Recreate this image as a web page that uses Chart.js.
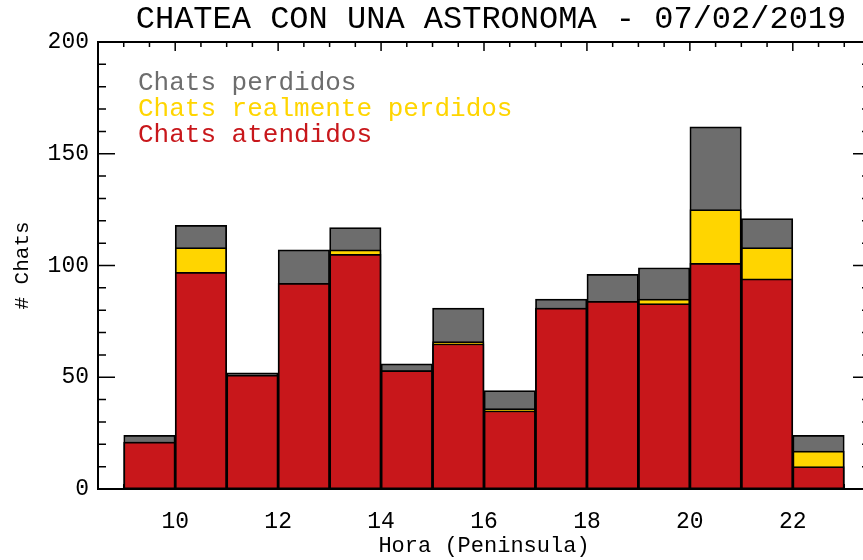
<!DOCTYPE html>
<html>
<head>
<meta charset="utf-8">
<script src="https://cdn.jsdelivr.net/npm/chart.js@4"></script>
<style>
html, body { margin: 0; padding: 0; background: #fff; overflow: hidden; }
#wrap { width: 863px; height: 560px; overflow: hidden; }
</style>
</head>
<body>
<div id="wrap"><canvas id="myChart" width="880" height="560"></canvas></div>
<script>
// one bar per hour, from h to h+1
var hours = [9, 10, 11, 12, 13, 14, 15, 16, 17, 18, 19, 20, 21, 22];
var perdidos = [24, 118, 52, 107, 117, 56, 81, 44, 85, 96, 99, 162, 121, 24];
var realmentePerdidos = [21, 108, 51, 92, 107, 53, 66, 36, 81, 84, 85, 125, 108, 17];
var atendidos = [21, 97, 51, 92, 105, 53, 65, 35, 81, 84, 83, 101, 94, 10];
var xTicks = [10, 12, 14, 16, 18, 20, 22];
var yTicks = [0, 50, 100, 150, 200];
var legendLabels = ['Chats perdidos', 'Chats realmente perdidos', 'Chats atendidos'];
var titleText = 'CHATEA CON UNA ASTRONOMA - 07/02/2019';

var RED = '#c8171b', YELLOW = '#ffd500', GRAY = '#6d6d6d';
var FONT = '"Liberation Mono", "DejaVu Sans Mono", monospace';

function toPoints(values) {
    return hours.map(function(h, i) { return { x: h + 0.5, y: values[i] }; });
}

var framePlugin = {
    id: 'frame',
    beforeDatasetsDraw: function(chart) {
        var ctx = chart.ctx, a = chart.chartArea;
        var xs = chart.scales.x, ys = chart.scales.y;
        ctx.save();
        ctx.strokeStyle = '#000';
        ctx.lineWidth = 2;
        ctx.strokeRect(a.left, a.top, a.right - a.left, a.bottom - a.top);
        ctx.lineWidth = 1.5;
        ctx.beginPath();
        for (var v = 0; v <= 200; v += 10) {
            var py = ys.getPixelForValue(v);
            var len = (v % 50 === 0) ? 17 : 8;
            ctx.moveTo(a.left, py); ctx.lineTo(a.left + len, py);
            ctx.moveTo(a.right, py); ctx.lineTo(a.right - len, py);
        }
        for (var h = 9; h <= 23; h += 0.5) {
            var px = xs.getPixelForValue(h);
            var l = (h % 2 === 0) ? 9 : 5;
            ctx.moveTo(px, a.top); ctx.lineTo(px, a.top + l);
            ctx.moveTo(px, a.bottom); ctx.lineTo(px, a.bottom - l);
        }
        ctx.stroke();
        ctx.restore();
    },
    afterDraw: function(chart) {
        var ctx = chart.ctx, a = chart.chartArea;
        var colors = [GRAY, YELLOW, RED];
        ctx.save();
        // title
        ctx.fillStyle = '#000';
        ctx.font = '32px ' + FONT;
        ctx.textAlign = 'center';
        ctx.textBaseline = 'middle';
        ctx.fillText(titleText, (a.left + a.right) / 2 + 7, a.top - 22);
        // legend
        ctx.font = '26px ' + FONT;
        ctx.textAlign = 'left';
        legendLabels.forEach(function(t, i) {
            ctx.fillStyle = colors[i];
            ctx.fillText(t, a.left + 40, a.top + 41 + i * 26);
        });
        ctx.restore();
    }
};

var ctx = document.getElementById('myChart').getContext('2d');
var myChart = new Chart(ctx, {
    type: 'bar',
    data: {
        datasets: [{
            label: 'Chats atendidos',
            data: toPoints(atendidos),
            backgroundColor: RED
        }, {
            label: 'Chats realmente perdidos',
            data: toPoints(realmentePerdidos),
            backgroundColor: YELLOW
        }, {
            label: 'Chats perdidos',
            data: toPoints(perdidos),
            backgroundColor: GRAY
        }]
    },
    options: {
        responsive: false,
        devicePixelRatio: 1,
        animation: false,
        grouped: false,
        barPercentage: 1,
        categoryPercentage: 1,
        borderColor: '#000',
        borderWidth: 1.75,
        borderSkipped: false,
        layout: { padding: { left: 0, right: 10, top: 42, bottom: 0 } },
        plugins: {
            legend: { display: false },
            tooltip: { enabled: false },
            title: { display: false }
        },
        scales: {
            x: {
                type: 'linear',
                min: 8.5,
                max: 23.5,
                offset: false,
                grid: { display: false, drawTicks: false },
                border: { display: false },
                afterBuildTicks: function(scale) {
                    scale.ticks = xTicks.map(function(v) { return { value: v }; });
                },
                afterFit: function(scale) { scale.height = 71; },
                ticks: {
                    color: '#000',
                    padding: 19,
                    maxRotation: 0,
                    font: { family: FONT, size: 23 }
                },
                title: {
                    display: true,
                    text: 'Hora (Peninsula)',
                    color: '#000',
                    font: { family: FONT, size: 22 },
                    padding: { top: 0, bottom: 1 }
                }
            },
            y: {
                min: 0,
                max: 200,
                grid: { display: false, drawTicks: false },
                border: { display: false },
                afterBuildTicks: function(scale) {
                    scale.ticks = yTicks.map(function(v) { return { value: v }; });
                },
                afterFit: function(scale) { scale.width = 98; },
                ticks: {
                    color: '#000',
                    padding: 9,
                    font: { family: FONT, size: 23 }
                },
                title: {
                    display: true,
                    text: '# Chats',
                    color: '#000',
                    font: { family: FONT, size: 21 },
                    padding: { top: 10, bottom: 0 }
                }
            }
        }
    },
    plugins: [framePlugin]
});
</script>
</body>
</html>
